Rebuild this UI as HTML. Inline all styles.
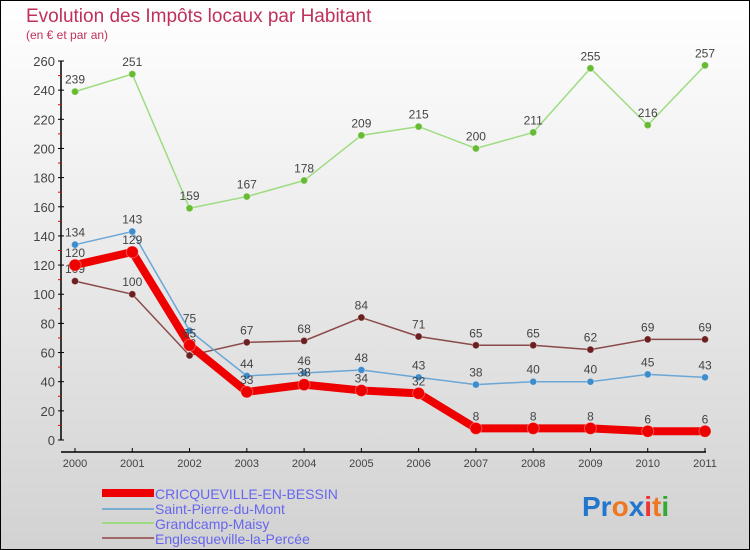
<!DOCTYPE html>
<html><head><meta charset="utf-8"><style>
body{margin:0;width:750px;height:550px;overflow:hidden;font-family:"Liberation Sans",sans-serif}
#wrap{position:absolute;left:0;top:0;width:748px;height:548px;border:1px solid #000;background:linear-gradient(#fff,#d2d2d2)}
</style></head><body>
<div id="wrap">
<svg id="chart" width="750" height="550" style="position:absolute;left:-1px;top:-1px">
<text x="26" y="22" font-size="19" fill="#c0305a">Evolution des Impôts locaux par Habitant</text>
<text x="26" y="39" font-size="12" fill="#c0305a">(en € et par an)</text>
<g id="axes"></g><g id="series"></g>
<g>
<rect x="102" y="489" width="52" height="8" fill="#e00"/>
<text x="155" y="499" font-size="14" fill="#6666ee">CRICQUEVILLE-EN-BESSIN</text>
<rect x="102" y="508" width="52" height="2" fill="#7aaed0"/>
<text x="155" y="514" font-size="14" fill="#6666ee">Saint-Pierre-du-Mont</text>
<rect x="102" y="522" width="52" height="2" fill="#9ddc80"/>
<text x="155" y="529" font-size="14" fill="#6666ee">Grandcamp-Maisy</text>
<rect x="102" y="537" width="52" height="2" fill="#a06868"/>
<text x="155" y="544" font-size="14" fill="#6666ee">Englesqueville-la-Percée</text>
</g>
<text x="582" y="516" font-size="28" font-weight="bold"><tspan fill="#2277cc">Pr</tspan><tspan fill="#ee7722">o</tspan><tspan fill="#2277cc">x</tspan><tspan fill="#ee3333">i</tspan><tspan fill="#ee7722">t</tspan><tspan fill="#33aa33">i</tspan></text>
</svg></div>
<script>
const years=["2000","2001","2002","2003","2004","2005","2006","2007","2008","2009","2010","2011"];
const yTicks=[0,20,40,60,80,100,120,140,160,180,200,220,240,260];
const cricqueville=[120,129,65,33,38,34,32,8,8,8,6,6];
const saintPierre=[134,143,75,44,46,48,43,38,40,40,45,43];
const grandcamp=[239,251,159,167,178,209,215,200,211,255,216,257];
const englesqueville=[109,100,58,67,68,84,71,65,65,62,69,69];
const NS="http://www.w3.org/2000/svg";
const xS=i=>75+i*(630/11), yS=v=>440-v*(379/260);
function mk(t,a,p){const e=document.createElementNS(NS,t);for(const k in a)e.setAttribute(k,a[k]);p.appendChild(e);return e;}
const ax=document.getElementById('axes');
const yl=mk('line',{x1:61,y1:61,x2:61,y2:440,stroke:'#000','stroke-width':1.5},ax);


const xl=mk('line',{x1:61,y1:452,x2:706,y2:452,stroke:'#000','stroke-width':1.5},ax);


yTicks.forEach(v=>{
  mk('line',{x1:58,x2:64,y1:yS(v),y2:yS(v),stroke:'#000'},ax);
  if(v<260)mk('line',{x1:58,x2:61,y1:yS(v+10),y2:yS(v+10),stroke:'#e00'},ax);
  const t=mk('text',{x:55,y:yS(v)+5,'font-size':13,fill:'#444','text-anchor':'end'},ax);t.textContent=v;
  
  
});
years.forEach((y,i)=>{
  mk('line',{x1:xS(i),x2:xS(i),y1:448,y2:452,stroke:'#000'},ax);
  const t=mk('text',{x:xS(i),y:467,'font-size':11,fill:'#444','text-anchor':'middle'},ax);t.textContent=y;
  
  
});
const sg=document.getElementById('series');
function draw(data,color,dot,w,r,name){
  const g=mk('g',{},sg);
  
  
  mk('polyline',{points:data.map((v,i)=>xS(i)+','+yS(v)).join(' '),fill:'none',stroke:color,'stroke-width':w,'stroke-linejoin':'round'},g);
  data.forEach((v,i)=>{
    const c=mk('circle',{cx:xS(i),cy:yS(v),r:r,fill:dot,stroke:'#fff','stroke-opacity':.3},g);
    
    
    const t=mk('text',{x:xS(i),y:yS(v)-8,'font-size':12,fill:'#444','text-anchor':'middle'},g);t.textContent=v;
    
    
  });
}
draw(grandcamp,'#9ddc80','#66bb33',1.5,3.5,'series-grandcamp');
draw(englesqueville,'#8b4a4a','#6b1f1f',1.5,3.5,'series-englesqueville');
draw(saintPierre,'#6aa6d6','#3d8ccc',1.5,3.5,'series-saint-pierre');
draw(cricqueville,'#ee0000','#ee0000',8,6,'series-cricqueville');
</script>
</body></html>
